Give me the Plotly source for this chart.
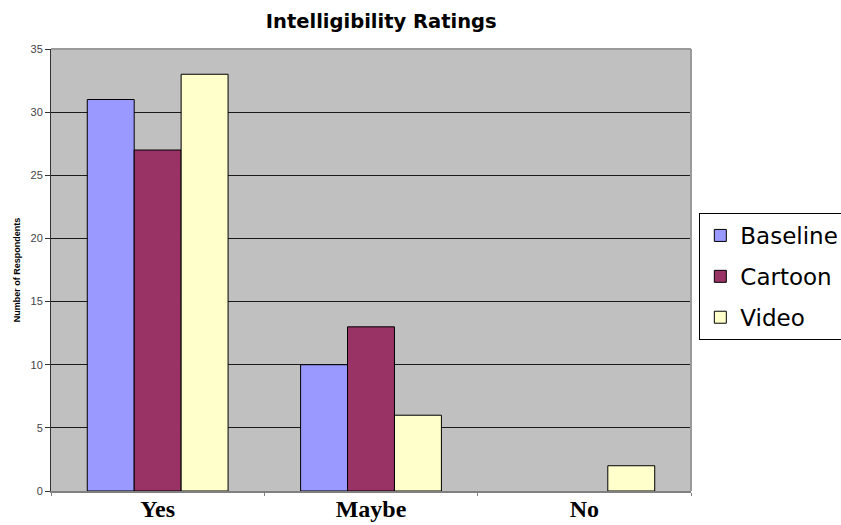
import plotly.graph_objects as go

categories = ["Yes", "Maybe", "No"]
baseline = [31, 10, 0]
cartoon = [27, 13, 0]
video = [33, 6, 2]
y_ticks = [0, 5, 10, 15, 20, 25, 30, 35]

series = [
    ("Baseline", baseline, "#9999FF"),
    ("Cartoon", cartoon, "#993366"),
    ("Video", video, "#FFFFCC"),
]

fig = go.Figure()
for name, vals, color in series:
    # empty bars get no outline so nothing is drawn for a zero count
    outline_w = [1 if v > 0 else 0 for v in vals]
    fig.add_trace(go.Bar(
        name=name, x=categories, y=vals,
        marker=dict(color=color, line=dict(color="#000000", width=outline_w)),
        legendgroup=name,
    ))

fig.update_layout(
    width=841, height=525,
    margin=dict(l=51, r=150, t=49, b=34, autoexpand=False),
    paper_bgcolor="#FFFFFF",
    plot_bgcolor="#C0C0C0",
    barmode="group",
    bargap=0.34,
    bargroupgap=0,
    title=dict(
        text="<b>Intelligibility Ratings</b>",
        font=dict(family="DejaVu Sans", size=19.5, color="#000000"),
        x=0.516, xref="paper", xanchor="center",
        y=0.96, yref="container", yanchor="middle",
    ),
    legend=dict(
        x=1.013, y=0.629, xanchor="left", yanchor="top",
        bordercolor="#000000", borderwidth=1, bgcolor="#FFFFFF",
        font=dict(family="DejaVu Sans", size=23, color="#000000"),
        traceorder="grouped", tracegroupgap=8,
    ),
    xaxis=dict(
        automargin=False,
        showgrid=False, showline=True, linecolor="#808080", linewidth=2,
        tickfont=dict(family="Liberation Serif", size=24, color="#000000", weight="bold"),
        ticks="outside", tickson="boundaries", ticklen=3, tickcolor="#808080",
        ticklabelstandoff=-5,
    ),
    yaxis=dict(
        automargin=False,
        range=[0, 35], tickvals=y_ticks, showgrid=True, gridcolor="#1a1a1a", gridwidth=1,
        showline=True, linecolor="#333333", linewidth=1,
        ticks="outside", ticklen=5, tickcolor="#333333",
        tickfont=dict(family="Liberation Sans", size=11, color="#444444"),
        title=dict(text="<b>Number of Respondents</b>", standoff=8,
                   font=dict(family="Liberation Sans", size=9, color="#000000")),
        zeroline=False,
    ),
    shapes=[
        dict(type="line", xref="paper", yref="paper", x0=0, x1=1, y0=1, y1=1,
             line=dict(color="#9a9a9a", width=2), layer="above"),
        dict(type="line", xref="paper", yref="paper", x0=1, x1=1, y0=0, y1=1,
             line=dict(color="#9a9a9a", width=2), layer="above"),
    ],
)

fig.write_html("out.html")
